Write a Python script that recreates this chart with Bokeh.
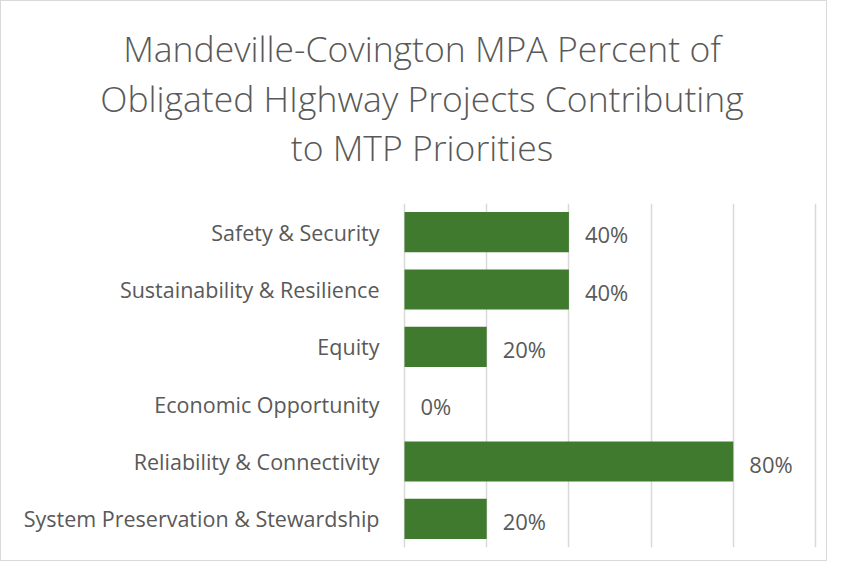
from bokeh.plotting import figure
from bokeh.models import Range1d, FixedTicker, Div, ColumnDataSource, InlineStyleSheet
from bokeh.layouts import column
from bokeh.core.properties import value
from bokeh.embed import file_html
from bokeh.resources import INLINE

categories = ["Safety & Security", "Sustainability & Resilience", "Equity",
              "Economic Opportunity", "Reliability & Connectivity",
              "System Preservation & Stewardship"]
values = [0.40, 0.40, 0.20, 0.0, 0.80, 0.20]
title_lines = ["Mandeville-Covington MPA Percent of",
               "Obligated HIghway Projects Contributing",
               "to MTP Priorities"]
x_ticks = [0.0, 0.2, 0.4, 0.6, 0.8, 1.0]

n = len(categories)
ypos = [n - i - 0.5 for i in range(n)]
labels = [f"{round(v*100)}%" for v in values]

src = ColumnDataSource(dict(y=ypos, v=values, lab=labels, cat=categories))

W = 827
DIV_H = 180
FRAME_LEFT, FRAME_RIGHT = 400, 819
pad = 4 / 411
p = figure(width=W, height=561 - DIV_H, output_backend="svg", toolbar_location=None,
           x_range=Range1d(-pad, 1.0 + pad), y_range=Range1d(0, n),
           min_border_left=FRAME_LEFT, min_border_right=W - FRAME_RIGHT,
           min_border_top=203 - DIV_H, min_border_bottom=14)
p.title = None
p.outline_line_color = None
p.background_fill_color = "white"
p.border_fill_color = "white"

p.xaxis.visible = False
p.xgrid.ticker = FixedTicker(ticks=x_ticks)
p.xgrid.grid_line_color = "#d9d9d9"
p.xgrid.grid_line_width = 1.5
p.ygrid.grid_line_color = None

p.yaxis.ticker = FixedTicker(ticks=ypos)
p.yaxis.major_label_overrides = {y: c for y, c in zip(ypos, categories)}
p.yaxis.axis_line_color = None
p.yaxis.major_tick_line_color = None
p.yaxis.minor_tick_line_color = None
p.yaxis.major_tick_out = 0
p.yaxis.major_tick_in = 0
p.yaxis.major_label_standoff = 21
p.yaxis.major_label_text_font = "Open Sans"
p.yaxis.major_label_text_font_size = "21.5px"
p.yaxis.major_label_text_color = "#595959"

p.hbar(y="y", right="v", left=0, height=0.7, source=src,
       fill_color="#407A2E", line_color=None)

p.text(x="v", y="y", text="lab", source=src, x_offset=16, y_offset=2,
       text_font=value("Open Sans"), text_font_size="22px",
       text_color="#595959", text_baseline="middle", text_align="left")

title_html = (
    '<div style="width:%dpx; box-sizing:border-box; padding-left:17px; '
    'padding-top:24px; text-align:center; font-family:\'Open Sans\'; '
    'font-weight:300; font-size:35.5px; line-height:49.5px; '
    'color:#595959; white-space:nowrap;">%s</div>'
    % (W, "<br>".join(title_lines))
)
title_div = Div(text=title_html, width=W, height=DIV_H,
                styles={"background-color": "white", "margin": "0"})

frame_css = InlineStyleSheet(css="""
:host { position: relative; background-color: white; }
:host::after {
  content: ""; position: absolute; left: 0; top: 0; right: 0; bottom: 0;
  border: 1px solid #d9d9d9; pointer-events: none; z-index: 100;
}
""")

layout = column(title_div, p, spacing=0, stylesheets=[frame_css])

open("out.html", "w").write(file_html(layout, INLINE))
